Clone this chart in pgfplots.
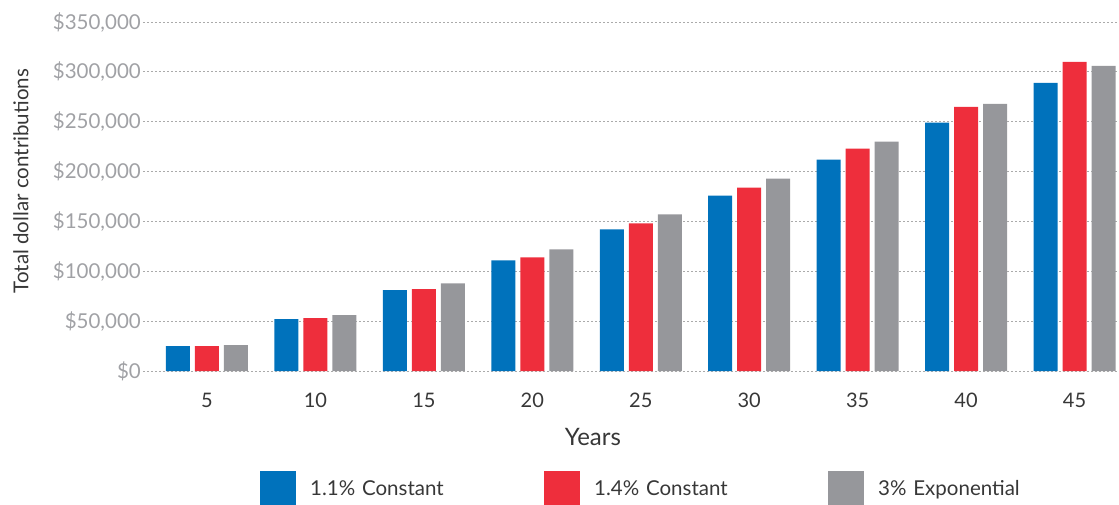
\documentclass[border=0pt]{standalone}
\usepackage{fontspec}
\setmainfont{Lato}
\usepackage{pgfplots}
\usepackage{pgfplotstable}
\pgfplotsset{compat=1.18}

\definecolor{cblue}{RGB}{0,114,188}
\definecolor{cred}{RGB}{238,46,60}
\definecolor{cgray}{RGB}{150,151,155}
\definecolor{ticktext}{RGB}{160,161,165}
\definecolor{darktext}{RGB}{55,55,55}
\definecolor{gridc}{RGB}{170,170,170}

% total dollar contributions by year
\pgfplotstableread{
x  blue   red    gray
0  25000  25000  26000
1  52000  53000  56000
2  81000  82000  88000
3  111000 114000 122000
4  142000 148000 157000
5  176000 184000 193000
6  212000 223000 230000
7  249000 265000 268000
8  289000 310000 306000
}\contrib

\begin{document}
\begin{tikzpicture}
\begin{axis}[
    width=976pt, height=349pt, scale only axis,
    ybar=5pt, bar width=24pt,
    xmin=-0.59, xmax=8.41,
    ymin=0, ymax=350000,
    axis line style={draw=none},
    major tick style={draw=none},
    xtick={0,...,8},
    xticklabels={5,10,15,20,25,30,35,40,45},
    ytick={0,50000,...,350000},
    yticklabels={{\$0},{\$50,000},{\$100,000},{\$150,000},{\$200,000},{\$250,000},{\$300,000},{\$350,000}},
    scaled y ticks=false,
    ymajorgrids=true,
    grid style={gridc, line width=1pt, dash pattern=on 2pt off 2pt},
    yticklabel style={font=\fontsize{20.5}{24}\selectfont, text=ticktext, inner xsep=2pt},
    xticklabel style={font=\fontsize{20}{24}\selectfont, text=darktext, anchor=center, yshift=-25pt},
    xlabel={Years},
    xlabel style={at={(axis description cs:0.461,-0.189)}, anchor=center,
                  font=\fontsize{24}{28}\selectfont, text=darktext},
    ylabel={Total dollar contributions},
    ylabel style={at={(axis description cs:-0.125,0.544)}, anchor=center,
                  font=\fontsize{20.5}{24}\selectfont, text=darktext},
    legend image code/.code={\fill[#1] (0pt,-18pt) rectangle (36pt,18pt);},
    legend columns=3,
    legend style={at={(axis description cs:0.1199,-0.338)}, anchor=west,
                  draw=none, fill=none, inner sep=0pt,
                  font=\fontsize{20.5}{24}\selectfont,
                  nodes={text width=208pt, inner xsep=14pt, align=left, text=darktext},
                  /tikz/every even column/.append style={column sep=12pt}},
]
\addplot[fill=cblue, draw=none] table[x=x, y=blue] {\contrib};
\addplot[fill=cred, draw=none] table[x=x, y=red] {\contrib};
\addplot[fill=cgray, draw=none] table[x=x, y=gray] {\contrib};
\legend{1.1\% Constant, 1.4\% Constant, 3\% Exponential}
\end{axis}
\pgfresetboundingbox
\path[use as bounding box] (-143pt,-133pt) rectangle (976pt,371pt);
\end{tikzpicture}
\end{document}
